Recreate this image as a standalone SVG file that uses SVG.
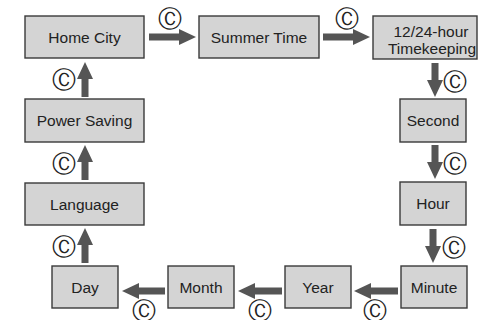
<svg xmlns="http://www.w3.org/2000/svg" width="497" height="320" viewBox="0 0 497 320">
<style>
.box{fill:#d4d4d4;stroke:#3a3a3a;stroke-width:1.4}
.lbl{font-family:"Liberation Sans",Arial,sans-serif;font-size:15.5px;fill:#222;text-anchor:middle}
.arr{fill:#555}
.c{font-family:"DejaVu Sans",sans-serif;font-size:24px;fill:#222;text-anchor:middle}
</style>
<rect width="497" height="320" fill="#fff"/>
<g id="connectors">
<path class="arr" d="M149,33.5 H179 V29 L196,37 L179,45 V40.5 H149 Z"/>
<path class="arr" d="M323,33.5 H353 V29 L370,37 L353,45 V40.5 H323 Z"/>
<path class="arr" d="M431.5,63 V80 H427 L435,97 L443,80 H438.5 V63 Z"/>
<path class="arr" d="M431.5,145 V162 H427 L435,179 L443,162 H438.5 V145 Z"/>
<path class="arr" d="M429.5,229 V246 H425 L433,263 L441,246 H436.5 V229 Z"/>
<path class="arr" d="M398,287.5 H371 V283 L354,291 L371,299 V294.5 H398 Z"/>
<path class="arr" d="M282,287.5 H255 V283 L238,291 L255,299 V294.5 H282 Z"/>
<path class="arr" d="M165,287.5 H139 V283 L122,291 L139,299 V294.5 H165 Z"/>
<path class="arr" d="M81.5,263 V245 H77 L85,228 L93,245 H88.5 V263 Z"/>
<path class="arr" d="M81.5,180 V162 H77 L85,145 L93,162 H88.5 V180 Z"/>
<path class="arr" d="M81.5,97 V79 H77 L85,62 L93,79 H88.5 V97 Z"/>
<text class="c" x="170" y="26.5">Ⓒ</text>
<text class="c" x="347" y="26.5">Ⓒ</text>
<text class="c" x="455" y="89.5">Ⓒ</text>
<text class="c" x="455" y="171.5">Ⓒ</text>
<text class="c" x="454" y="255.5">Ⓒ</text>
<text class="c" x="375" y="318.5">Ⓒ</text>
<text class="c" x="260" y="318.5">Ⓒ</text>
<text class="c" x="143.5" y="318.5">Ⓒ</text>
<text class="c" x="63.5" y="254.5">Ⓒ</text>
<text class="c" x="63.5" y="171.5">Ⓒ</text>
<text class="c" x="63.5" y="88">Ⓒ</text>
</g>
<g id="home-city"><rect class="box" x="25" y="16" width="119" height="42"/><text class="lbl" x="84.5" y="43">Home City</text></g>
<g id="summer-time"><rect class="box" x="199" y="16" width="120" height="42"/><text class="lbl" x="259" y="43">Summer Time</text></g>
<g id="timekeeping"><rect class="box" x="373" y="16" width="104" height="43"/><text class="lbl" x="431" y="36.5">12/24-hour</text><text class="lbl" x="432" y="53.5">Timekeeping</text></g>
<g id="second"><rect class="box" x="400" y="99" width="66" height="43"/><text class="lbl" x="433" y="126">Second</text></g>
<g id="hour"><rect class="box" x="400" y="182" width="66" height="43"/><text class="lbl" x="433" y="209">Hour</text></g>
<g id="minute"><rect class="box" x="401" y="266" width="66" height="42"/><text class="lbl" x="434" y="292.5">Minute</text></g>
<g id="year"><rect class="box" x="285" y="266" width="66" height="42"/><text class="lbl" x="318" y="292.5">Year</text></g>
<g id="month"><rect class="box" x="168" y="266" width="66" height="42"/><text class="lbl" x="201" y="292.5">Month</text></g>
<g id="day"><rect class="box" x="52" y="266" width="66" height="42"/><text class="lbl" x="85" y="292.5">Day</text></g>
<g id="language"><rect class="box" x="25" y="183" width="119" height="42"/><text class="lbl" x="84.5" y="209.5">Language</text></g>
<g id="power-saving"><rect class="box" x="25" y="99" width="119" height="43"/><text class="lbl" x="84.5" y="126">Power Saving</text></g>
</svg>
